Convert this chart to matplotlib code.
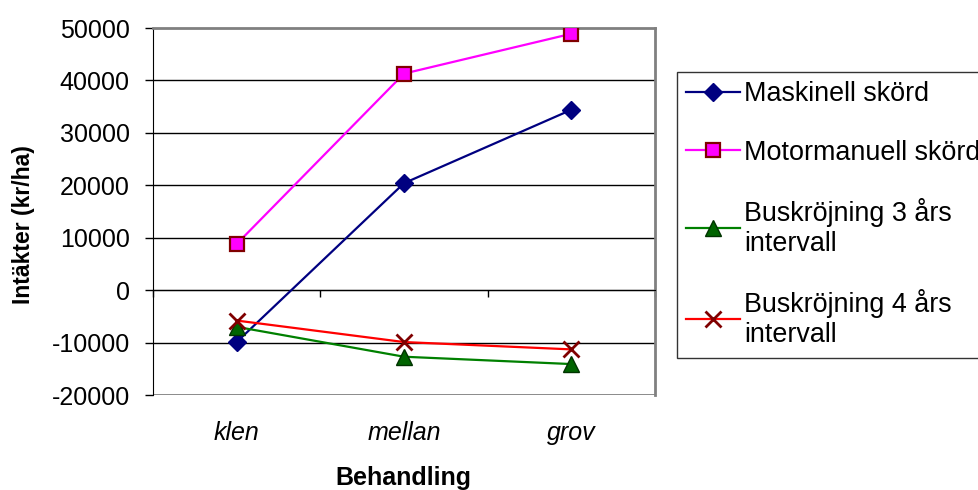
import numpy as np
import matplotlib.pyplot as plt

plt.rcParams['font.family'] = ['Liberation Sans', 'DejaVu Sans']

# Data
categories = ['klen', 'mellan', 'grov']
maskinell = [-9900, 20400, 34400]
motormanuell = [8800, 41300, 48900]
busk3 = [-7000, -12700, -14100]
busk4 = [-5800, -9900, -11300]
yticks = [-20000, -10000, 0, 10000, 20000, 30000, 40000, 50000]

fig = plt.figure(figsize=(9.79, 4.9), dpi=100)
ax = fig.add_axes([153/979, 1-395/490, (655-153)/979, (395-28)/490])

x = np.arange(len(categories))

# grid lines
for yv in yticks[1:-1]:
    ax.axhline(yv, color='black', lw=1, zorder=1)
ax.axhline(yticks[0], color='#808080', lw=2, zorder=1)

ax.plot(x, maskinell, color='#000080', lw=1.6, marker='D', ms=9,
        mfc='#000080', mec='#000080', label='Maskinell skörd', zorder=3)
ax.plot(x, motormanuell, color='#FF00FF', lw=1.6, marker='s', ms=10,
        mfc='#FF00FF', mec='#800000', mew=1.6, label='Motormanuell skörd', zorder=3)
ax.plot(x, busk3, color='#008000', lw=1.6, marker='^', ms=11,
        mfc='#006400', mec='#003300', mew=1, label='Buskröjning 3 års\nintervall', zorder=3)
ax.plot(x, busk4, color='#FF0000', lw=1.6, marker='x', ms=11,
        mec='#800000', mew=2, label='Buskröjning 4 års\nintervall', zorder=3)

ax.set_xlim(-0.5, len(categories) - 0.5)
ax.set_ylim(yticks[0], yticks[-1])
ax.set_yticks(yticks)
ax.set_yticklabels([str(v) for v in yticks], fontsize=18)
ax.tick_params(axis='y', direction='out', length=5.8, width=1, pad=11)

# x axis line at zero with boundary ticks
ax.spines['bottom'].set_position(('data', 0))
ax.set_xticks(np.arange(len(categories) + 1) - 0.5)
ax.set_xticklabels([])
ax.tick_params(axis='x', direction='out', length=5, width=1, color='black')
ax.spines['left'].set_color('black')
ax.spines['top'].set_color('#808080')
ax.spines['right'].set_color('#808080')
ax.spines['top'].set_linewidth(2)
ax.spines['right'].set_linewidth(2)

for i, c in enumerate(categories):
    ax.text(i, (395-433)/367, c, transform=ax.get_xaxis_transform(), ha='center',
            va='center', fontsize=18, style='italic')

fig.text(24/979, 1-225/490, 'Intäkter (kr/ha)', rotation=90, ha='center',
         va='center', fontsize=16.5, fontweight='bold')
fig.text(403/979, 1-478/490, 'Behandling', ha='center', va='center',
         fontsize=18, fontweight='bold')

leg = fig.legend(loc='upper left', bbox_to_anchor=(677/979, 1-72/490),
                 fontsize=19.4, frameon=True, fancybox=False, edgecolor='black',
                 labelspacing=1.2, handlelength=2.0, handletextpad=0.15,
                 borderaxespad=0, borderpad=0.35)
leg.get_frame().set_linewidth(1)

fig.savefig('out.png', dpi=100)
